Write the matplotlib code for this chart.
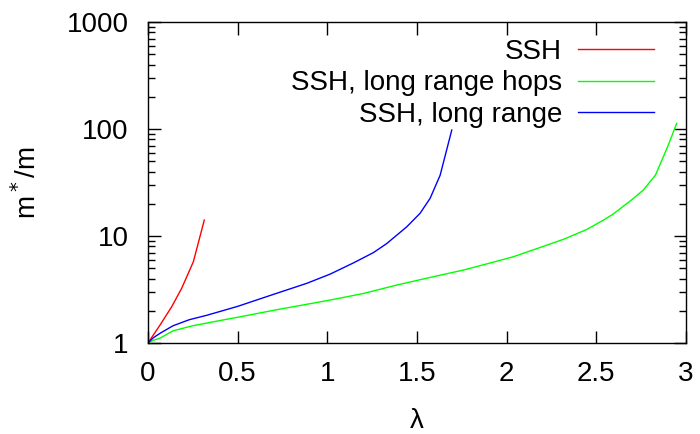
import matplotlib.pyplot as plt
import matplotlib.ticker as ticker

plt.rcParams['font.family'] = ['Liberation Sans', 'DejaVu Sans']

# SSH
lam_ssh = [0, 0.067, 0.132, 0.188, 0.253, 0.314]
m_ssh = [1, 1.47, 2.18, 3.25, 5.75, 14.1]

# SSH, long range hops
lam_hops = [0, 0.03, 0.067, 0.14, 0.25, 0.4, 0.5, 0.7, 0.885, 1.015, 1.2, 1.387,
            1.57, 1.759, 1.9, 2.038, 2.2, 2.316, 2.446, 2.54, 2.595, 2.7, 2.762,
            2.83, 2.9, 2.948]
m_hops = [1, 1.06, 1.11, 1.3, 1.45, 1.62, 1.74, 2.02, 2.3, 2.52, 2.9, 3.48,
          4.09, 4.81, 5.55, 6.41, 7.96, 9.31, 11.5, 14.1, 16.1, 22, 26.9,
          37.2, 70, 113]

# SSH, long range
lam_long = [0, 0.03, 0.07, 0.14, 0.23, 0.33, 0.5, 0.7, 0.885, 1.015, 1.145,
            1.257, 1.331, 1.443, 1.517, 1.573, 1.629, 1.694]
m_long = [1, 1.12, 1.24, 1.45, 1.65, 1.82, 2.2, 2.85, 3.61, 4.4, 5.6,
          7.0, 8.5, 12.2, 16.3, 22.5, 37, 98]

x_ticks = [0, 0.5, 1, 1.5, 2, 2.5, 3]
x_labels = ['0', '0.5', '1', '1.5', '2', '2.5', '3']
y_ticks = [1, 10, 100, 1000]
y_labels = ['1', '10', '100', '1000']

fig = plt.figure(figsize=(7, 4.34), dpi=100)
ax = fig.add_axes([0.2114, 0.2097, 0.7686, 0.7393])

ax.plot(lam_ssh, m_ssh, color='#ff0000', lw=1, label='SSH')
ax.plot(lam_hops, m_hops, color='#00ff00', lw=1, label='SSH, long range hops')
ax.plot(lam_long, m_long, color='#0000ff', lw=1, label='SSH, long range')

ax.set_yscale('log')
ax.set_xlim(0, 3)
ax.set_ylim(1, 1000)
ax.set_xticks(x_ticks)
ax.set_xticklabels(x_labels)
ax.yaxis.set_major_locator(ticker.FixedLocator(y_ticks))
ax.yaxis.set_major_formatter(ticker.FixedFormatter(y_labels))
ax.yaxis.set_minor_locator(ticker.LogLocator(base=10, subs=range(2, 10)))
ax.yaxis.set_minor_formatter(ticker.NullFormatter())

ax.tick_params(which='both', direction='in', top=True, right=True, labelsize=20, width=1)
ax.tick_params(which='major', length=9)
ax.tick_params(which='minor', length=5)
ax.tick_params(axis='x', pad=13)
ax.tick_params(axis='y', pad=14)
for s in ax.spines.values():
    s.set_linewidth(1)

ax.set_xlabel('λ', fontsize=20, labelpad=15)
ax.set_ylabel('m$^*$/m', fontsize=20, labelpad=18)

ax.legend(frameon=False, markerfirst=False, handlelength=2.73, fontsize=20,
          loc='upper right', bbox_to_anchor=(0.9405, 0.948), borderpad=0,
          borderaxespad=0, labelspacing=0.2, handletextpad=0.58)

plt.savefig('out.png', dpi=100)
